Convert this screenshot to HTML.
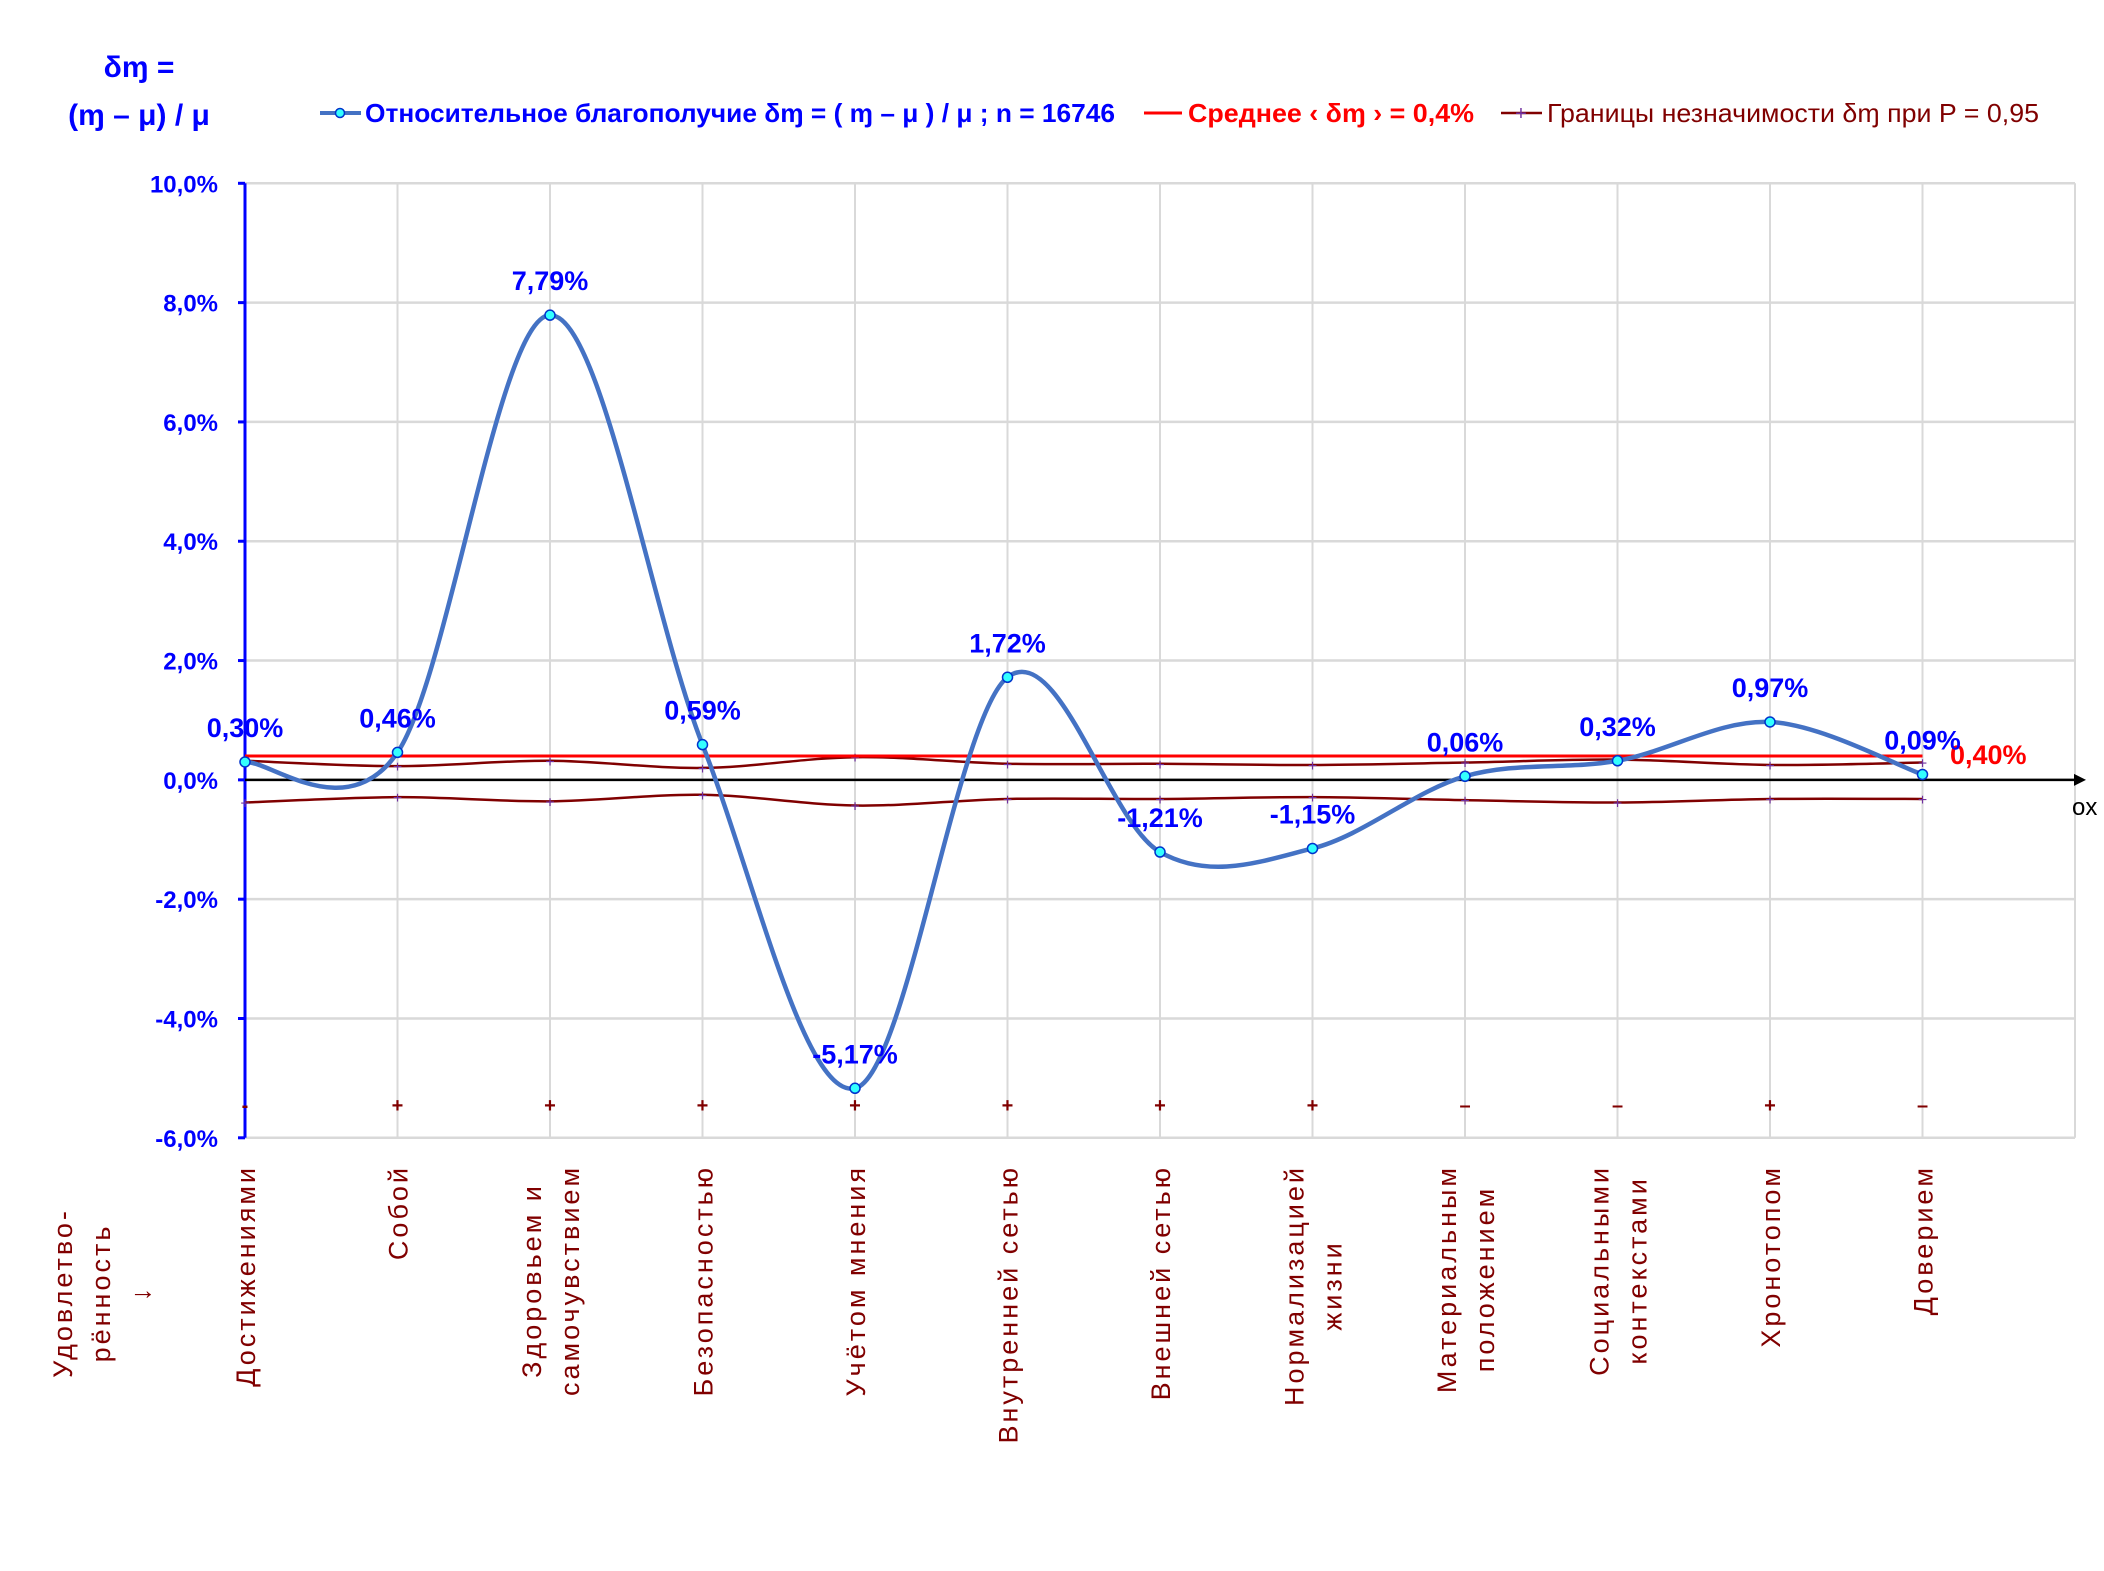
<!DOCTYPE html>
<html><head><meta charset="utf-8">
<style>
html,body{margin:0;padding:0;background:#fff;}
svg{display:block;font-family:"Liberation Sans",sans-serif;}
</style></head>
<body>
<svg id="chart" width="2104" height="1571" viewBox="0 0 2104 1571" xmlns="http://www.w3.org/2000/svg">
  <g fill="#0000ff" font-weight="bold" font-size="30" text-anchor="middle">
    <text x="139" y="77">δɱ =</text>
    <text x="139" y="125">(ɱ – μ) / μ</text>
  </g>
  <g font-size="26">
    <g>
      <line x1="320" y1="113" x2="361" y2="113" stroke="#4472C4" stroke-width="4"/>
      <circle cx="340" cy="113" r="4.5" fill="#33ffff" stroke="#0033cc" stroke-width="1.5"/>
      <text x="365" y="122" fill="#0000ff" font-weight="bold" textLength="750" lengthAdjust="spacingAndGlyphs">Относительное благополучие δɱ = ( ɱ – μ ) / μ ; n = 16746</text>
    </g>
    <g>
      <line x1="1144" y1="113" x2="1182" y2="113" stroke="#ff0000" stroke-width="3"/>
      <text x="1188" y="122" fill="#ff0000" font-weight="bold" textLength="286" lengthAdjust="spacingAndGlyphs">Среднее ‹ δɱ › = 0,4%</text>
    </g>
    <g>
      <line x1="1501" y1="113" x2="1542" y2="113" stroke="#800000" stroke-width="2.5"/>
      <text x="1521" y="120" fill="#7030A0" font-size="20" text-anchor="middle">+</text>
      <text x="1547" y="122" fill="#800000" textLength="492" lengthAdjust="spacingAndGlyphs">Границы незначимости δɱ при P = 0,95</text>
    </g>
  </g>
  <g id="grid"></g>
  <g id="marks"></g>
  <g id="labels"></g>
  <g fill="#800000" font-size="27" letter-spacing="3">
    <text transform="translate(72,1293) rotate(-90)" text-anchor="middle">Удовлетво-</text>
    <text transform="translate(110,1293) rotate(-90)" text-anchor="middle">рённость</text>
    <text transform="translate(150,1293) rotate(-90)" text-anchor="middle">↓</text>
  </g>
</svg>
<script>
const categories = [["Достижениями"],["Собой"],["Здоровьем и","самочувствием"],["Безопасностью"],["Учётом мнения"],["Внутренней сетью"],["Внешней сетью"],["Нормализацией","жизни"],["Материальным","положением"],["Социальными","контекстами"],["Хронотопом"],["Доверием"]];
const values = [0.30,0.46,7.79,0.59,-5.17,1.72,-1.21,-1.15,0.06,0.32,0.97,0.09];
const valueLabels = ["0,30%","0,46%","7,79%","0,59%","-5,17%","1,72%","-1,21%","-1,15%","0,06%","0,32%","0,97%","0,09%"];
const meanValue = 0.4;
const upperBound = [0.32,0.23,0.32,0.20,0.38,0.27,0.27,0.25,0.29,0.34,0.25,0.29];
const lowerBound = [-0.38,-0.29,-0.36,-0.25,-0.43,-0.32,-0.32,-0.29,-0.34,-0.38,-0.32,-0.32];
const signs = ["-","+","+","+","+","+","+","+","–","–","+","–"];
const yTicks = [10,8,6,4,2,0,-2,-4,-6];
const yTickLabels = ["10,0%","8,0%","6,0%","4,0%","2,0%","0,0%","-2,0%","-4,0%","-6,0%"];
const signLevel = -5.45;

const NS="http://www.w3.org/2000/svg";
const X0=245, STEP=152.5, YTOP=183.3, YMAX=10, YMIN=-6, YBOT=1137.8;
function xs(i){return X0+STEP*i;}
function ys(v){return YTOP+(YMAX-v)/(YMAX-YMIN)*(YBOT-YTOP);}
function mk(tag,attrs,parent){const e=document.createElementNS(NS,tag);for(const k in attrs)e.setAttribute(k,attrs[k]);parent.appendChild(e);return e;}
const grid=document.getElementById('grid'), marks=document.getElementById('marks'), labels=document.getElementById('labels');
const XEND=xs(categories.length);

yTicks.forEach((t,k)=>{
  const g=mk('line',{x1:X0,x2:XEND,y1:ys(t),y2:ys(t),stroke:'#d9d9d9','stroke-width':2.5},grid);
  
  
  const tk=mk('line',{x1:X0-7,x2:X0,y1:ys(t),y2:ys(t),stroke:'#0000ff','stroke-width':3},grid);
  
  
  const tl=mk('text',{x:218,y:ys(t)+9,'text-anchor':'end',fill:'#0000ff','font-weight':'bold','font-size':24},grid);
  tl.textContent=yTickLabels[k];
  
  
});
for(let i=1;i<=categories.length;i++){
  const v=mk('line',{x1:xs(i),x2:xs(i),y1:YTOP,y2:YBOT,stroke:'#d9d9d9','stroke-width':2},grid);
  
  
}
const ya=mk('line',{x1:X0,x2:X0,y1:YTOP,y2:YBOT,stroke:'#0000ff','stroke-width':3},grid);


const xa=mk('line',{x1:X0,x2:2078,y1:ys(0),y2:ys(0),stroke:'#000','stroke-width':2.5},grid);


const ar=mk('path',{d:`M2086 ${ys(0)} l-12 -6 l0 12 z`,fill:'#000'},grid);


const ox=mk('text',{x:2072,y:ys(0)+35,'font-size':24,fill:'#000'},grid);
ox.textContent='ox';



function smooth(vals){
  const p=vals.map((v,i)=>[xs(i),ys(v)]);
  let d=`M${p[0][0]} ${p[0][1]}`;
  for(let i=0;i<p.length-1;i++){
    const a=p[i-1]||p[i], b=p[i], c=p[i+1], e=p[i+2]||p[i+1];
    const c1=[b[0]+(c[0]-a[0])/6,b[1]+(c[1]-a[1])/6];
    const c2=[c[0]-(e[0]-b[0])/6,c[1]-(e[1]-b[1])/6];
    d+=` C${c1[0]} ${c1[1]} ${c2[0]} ${c2[1]} ${c[0]} ${c[1]}`;
  }
  return d;
}
[upperBound,lowerBound].forEach((arr,k)=>{
  const l=mk('path',{d:smooth(arr),fill:'none',stroke:'#800000','stroke-width':2.5},marks);
  
  
  arr.forEach((v,i)=>{
    const m=mk('text',{x:xs(i),y:ys(v)+6,'text-anchor':'middle',fill:'#7030A0','font-size':16},marks);
    m.textContent='+';
    
    
  });
});
const ml=mk('line',{x1:xs(0),x2:xs(categories.length-1),y1:ys(meanValue),y2:ys(meanValue),stroke:'#ff0000','stroke-width':3},marks);


const mlab=mk('text',{x:1950,y:ys(meanValue)+8,fill:'#ff0000','font-weight':'bold','font-size':27},marks);
mlab.textContent='0,40%';



const sl=mk('path',{d:smooth(values),fill:'none',stroke:'#4472C4','stroke-width':4.5},marks);


values.forEach((v,i)=>{
  const c=mk('circle',{cx:xs(i),cy:ys(v),r:5,fill:'#33ffff',stroke:'#0033cc','stroke-width':1.5},marks);
  
  
  const t=mk('text',{x:xs(i),y:ys(v)-25,'text-anchor':'middle',fill:'#0000ff','font-weight':'bold','font-size':27},marks);
  t.textContent=valueLabels[i];
  
  
  const s=mk('text',{x:xs(i),y:ys(signLevel)+7,'text-anchor':'middle',fill:'#800000','font-weight':'bold','font-size':20},marks);
  s.textContent=signs[i];
  
  
});

categories.forEach((lines,i)=>{
  const g=mk('g',{fill:'#800000','font-size':27,'letter-spacing':3},labels);
  
  
  const n=lines.length, LH=38;
  const ts=lines.map((ln,j)=>{
    const off=(j-(n-1)/2)*LH;
    const t=mk('text',{'text-anchor':'middle'},g);
    t.textContent=ln;
    return [t,off];
  });
  let maxL=0;
  ts.forEach(([t])=>{maxL=Math.max(maxL,t.getComputedTextLength());});
  const cy=1165+maxL/2;
  ts.forEach(([t,off])=>{t.setAttribute('transform',`translate(${xs(i)+off+10},${cy}) rotate(-90)`);});
});
</script>
</body></html>
